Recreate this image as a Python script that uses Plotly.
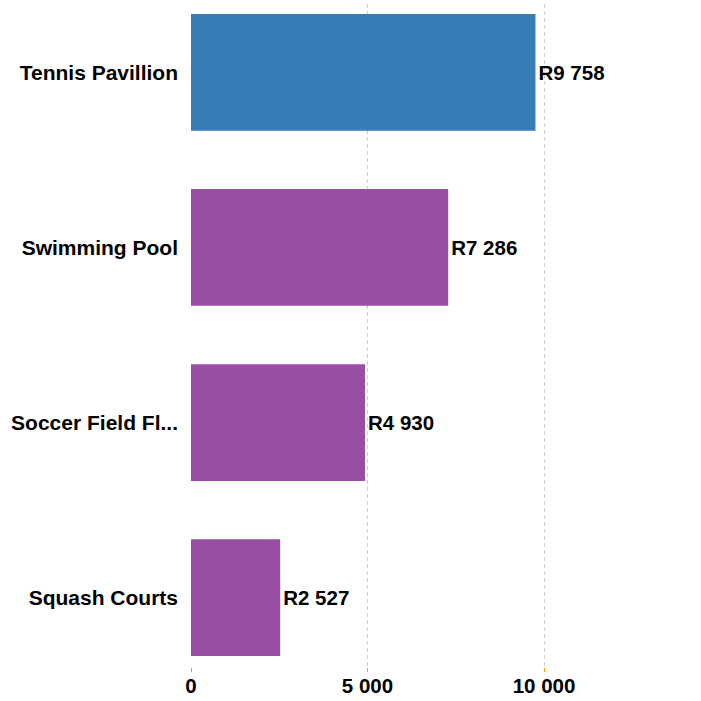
import plotly.graph_objects as go

categories = ["Squash Courts", "Soccer Field Fl...", "Swimming Pool", "Tennis Pavillion"]
values = [2527, 4930, 7286, 9758]
colors = ["#984ea3", "#984ea3", "#984ea3", "#377eb8"]
tick_vals = [0, 5000, 10000]

FONT = "Liberation Sans, Arial, sans-serif"

fig = go.Figure(go.Bar(
    y=categories, x=values, orientation="h",
    marker=dict(color=colors, line=dict(width=0)),
    texttemplate="R%{x:,}", textposition="outside",
    textfont=dict(family=FONT, size=20.5, color="#000000", weight="bold"),
    cliponaxis=False, width=0.667,
))

L, R = 191, 20
W = 701
pw = W - L - R
xmax = pw / (353.0 / 10000)

fig.update_layout(
    width=701, height=701,
    margin=dict(l=L, r=R, t=4, b=34, autoexpand=False),
    plot_bgcolor="white", paper_bgcolor="white",
    separators=". ",
    showlegend=False,
    font=dict(family=FONT, size=20, color="#000000"),
    xaxis=dict(range=[0, xmax], tickvals=tick_vals, tickformat=",",
               showgrid=True, gridcolor="#cccccc", griddash="4px,3px", gridwidth=1,
               zeroline=False, showline=False, automargin=False,
               ticks="outside", tickcolor="#ff9900", ticklen=4, tickwidth=1,
               ticklabelstandoff=-4,
               tickfont=dict(size=20.5, color="#000000", family=FONT, weight="bold")),
    yaxis=dict(range=[-0.396, 3.39], showgrid=False, zeroline=False, showline=False,
               ticks="", ticklabelstandoff=12, automargin=False,
               tickfont=dict(size=21, color="#000000", family=FONT, weight="bold")),
)

fig.write_html("out.html",
               config={"displayModeBar": False},
               post_script="document.body.style.margin='0';document.body.style.overflow='hidden';")
